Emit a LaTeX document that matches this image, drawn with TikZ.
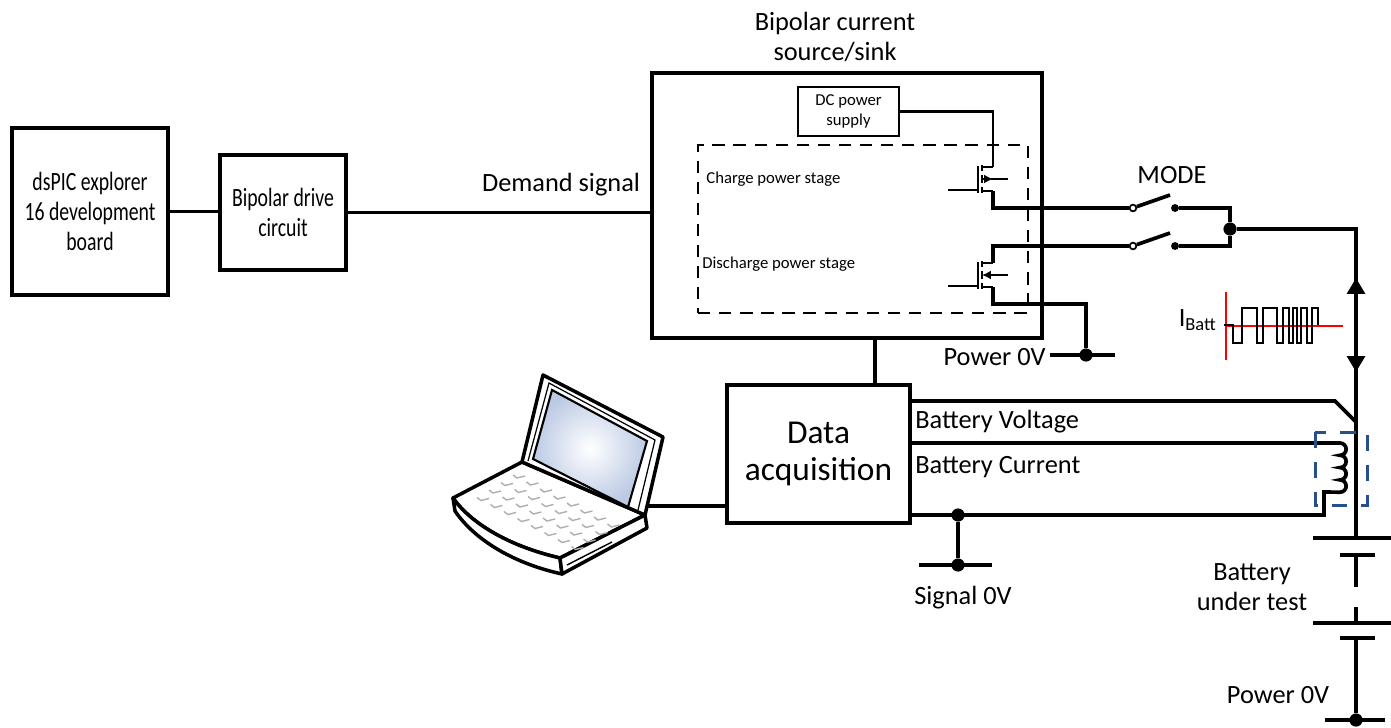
\documentclass[tikz,border=0pt]{standalone}
\usepackage{fontspec}
\usepackage{graphicx}
\setmainfont{Carlito}
\usetikzlibrary{arrows.meta}
\definecolor{coreblue}{RGB}{41,78,140}
\definecolor{screenblue}{RGB}{188,202,228}
\definecolor{keygrey}{RGB}{175,175,175}
\newcommand{\nar}[1]{\scalebox{0.75}[1]{#1}}

\tikzset{
  box/.style={draw,line width=2.2pt,align=center,inner sep=0pt,font=\fontsize{15}{17}\selectfont},
  wire/.style={line width=2.1pt},
  fetline/.style={line width=1.6pt},
  lbl/.style={inner sep=0pt,align=center,font=\fontsize{15}{17}\selectfont},
  smalllbl/.style={inner sep=0pt,align=center,font=\fontsize{9.5}{11.3}\selectfont},
  dot/.style={circle,fill,inner sep=0pt,minimum size=4.5pt},
  junction/.style={circle,fill,inner sep=0pt,minimum size=7.5pt},
  contact/.style={circle,draw,fill=white,line width=1pt,inner sep=0pt,minimum size=3.8pt},
  laptop/.style={line width=2pt,line join=round,fill=white},
  key/.style={keygrey,line width=0.8pt},
  pics/fet/.style={code={
    \draw[fetline] (-34,11) -- (-4,11) (-4,-13) -- (-4,14);
    \draw[fetline] (0,-14) -- (0,-8) (0,-4) -- (0,4) (0,8) -- (0,14);
    \draw[fetline] (0,-12) -- (11,-12) coordinate (-d);
    \draw[fetline] (0,12) -- (11,12) coordinate (-s);
    \coordinate (-b) at (0,0);
  }}
}

\begin{document}
\begin{tikzpicture}[x=0.02cm,y=-0.02cm]
  \useasboundingbox (0,0) rectangle (1391,727);

  \node[box,minimum width=3.12cm,minimum height=3.34cm] (dspic) at (90,211.5) {\nar{dsPIC explorer}\\\nar{16 development}\\\nar{board}};
  \node[box,minimum width=2.52cm,minimum height=2.3cm] (drive) at (283,212.5) {\nar{Bipolar drive}\\\nar{circuit}};
  \node[box,minimum width=7.8cm,minimum height=5.3cm] (source) at (847,205.5) {};
  \node[lbl] (sourcelbl) at (835,37) {Bipolar current\\source/sink};
  \node[box,line width=1.2pt,font=\fontsize{9.5}{11.3}\selectfont,minimum width=2.02cm,minimum height=0.98cm] (dcps) at (848.5,111.5) {DC power\\supply};
  \node[draw,line width=1.2pt,dash pattern=on 7pt off 5pt,minimum width=6.6cm,minimum height=3.36cm] (stage) at (863,229) {};
  \node[box,font=\fontsize{19}{21}\selectfont,minimum width=3.66cm,minimum height=2.76cm] (daq) at (818.5,454) {Data\\acquisition};

  \node[lbl] (demand) at (561,185) {Demand signal};
  \node[smalllbl,anchor=west] (chg) at (706,179) {Charge power stage};
  \node[smalllbl,anchor=west] (dis) at (702,264) {Discharge power stage};
  \node[lbl] (mode) at (1172,175) {MODE};
  \node[lbl,anchor=west] (vbat) at (915,422) {Battery Voltage};
  \node[lbl,anchor=west] (ibat) at (915,467) {Battery Current};
  \node[lbl] (sig0) at (963,598) {Signal 0V};
  \node[lbl] (bat) at (1252,587) {Battery\\under test};
  \node[lbl,anchor=east] (pwr0a) at (1046,357) {Power 0V};
  \node[lbl] (pwr0b) at (1278,695) {Power 0V};
  \node[lbl,anchor=east] (ibatt) at (1217,320) {I\textsubscript{Batt}};

  \draw[wire] (dspic.east) -- (dspic.east -| drive.west);
  \draw[wire] (drive.east) -- (drive.east -| source.west);
  \coordinate (tap) at (875,0);
  \draw[wire] (source.south -| tap) -- (daq.north -| tap);

  \pic (upfet) at (982,179) {fet};
  \pic (lofet) at (982,275) {fet};
  \draw[fetline,-{Latex[length=5pt,width=5pt]}] (upfet-b) -- ++(11,0);
  \draw[fetline] (upfet-b) ++(9,0) -- ++(17,0);
  \draw[fetline,-{Latex[length=5pt,width=5pt]}] (lofet-b) ++(26,0) -- (lofet-b);
  \draw[fetline] (dcps.east) -| (upfet-d);

  \node[contact] (sw1a) at (1133,208) {};
  \node[dot]     (sw1b) at (1175,208) {};
  \node[contact] (sw2a) at (1133,246) {};
  \node[dot]     (sw2b) at (1175,246) {};
  \node[junction] (jn)  at (1230,229) {};
  \coordinate (blade1) at (1170,195);
  \coordinate (blade2) at (1170,233);
  \draw[wire] (upfet-s) |- (sw1a.west);
  \draw[wire] (lofet-d) |- (sw2a.west);
  \draw[wire] (sw1a.20) -- (blade1);
  \draw[wire] (sw2a.20) -- (blade2);
  \draw[wire] (sw1b) -| (jn);
  \draw[wire] (sw2b) -| (jn);

  \node[junction] (pgnd) at (1086,355) {};
  \draw[wire] (lofet-s) -- ++(0,17) -| (pgnd);
  \draw[wire] (1050,355) -- (1115,355);

  \coordinate (plus) at (1356,538);
  \coordinate (iup) at (1356,278);
  \coordinate (idown) at (1356,372);
  \draw[wire] (jn) -| (plus);
  \draw[wire,{Triangle[length=9pt,width=10pt]}-{Triangle[length=9pt,width=10pt]}] (iup) -- (idown);

  \draw[red,line width=0.6pt] (1226,292) -- (1226,360) (1226,326) -- (1343,326);
  \draw[line width=1.1pt] (1224,325) -- (1233,325) -- (1233,343) -- (1242,343) -- (1242,308)
    -- (1257,308) -- (1257,343) -- (1263,343) -- (1263,308) -- (1277,308) -- (1277,343)
    -- (1283,343) -- (1283,308) -- (1289,308) -- (1289,343) -- (1293,343) -- (1293,308)
    -- (1297,308) -- (1297,343) -- (1301,343) -- (1301,308) -- (1307,308) -- (1307,343)
    -- (1312,343) -- (1312,308) -- (1318,308) -- (1318,325);

  \coordinate (vrow) at (0,401);
  \coordinate (irow) at (0,443);
  \coordinate (grow) at (0,515);
  \coordinate (vtap) at (1356,422);
  \draw[wire] (daq.east |- vrow) -- (1335,401) -- (vtap);
  \draw[wire] (daq.east |- irow) -- (1340,443)
    arc[start angle=90,end angle=-90,radius=3.5pt]
    arc[start angle=90,end angle=-90,radius=3.5pt]
    arc[start angle=90,end angle=-90,radius=3.5pt]
    arc[start angle=90,end angle=-90,radius=3.5pt]
    -- (1324,492) -- (1324,515) -- (daq.east |- grow);
  \draw[coreblue,line width=1.7pt,dash pattern=on 9pt off 8pt] (1315,432) rectangle (1367,505);

  \node[junction] (sgnd) at (958,515) {};
  \node[junction] (sgndb) at (958,565) {};
  \draw[wire] (sgnd) -- (sgndb);
  \draw[wire] (919,565) -- (992,565);

  \draw[wire] (1313,538) -- (1391,538);
  \draw[wire] (1340,555) -- (1375,555);
  \draw[wire] (1356,555) -- (1356,587);
  \draw[wire] (1356,607) -- (1356,623);
  \draw[wire] (1313,623) -- (1391,623);
  \draw[wire] (1340,638) -- (1375,638);
  \node[junction] (bgnd) at (1356,720) {};
  \draw[wire] (1356,638) -- (bgnd);
  \draw[wire] (1325,720) -- (1385,720);

  \draw[laptop] (453,498) -- (522,462) -- (645,515) -- (560,558)
    .. controls (512,547) and (472,525) .. cycle;
  \draw[laptop] (453,498) .. controls (472,525) and (512,547) .. (560,558) -- (562,574)
    .. controls (512,563) and (474,539) .. (455,511) -- cycle;
  \draw[laptop] (560,558) -- (645,515) -- (647,528) -- (562,574) -- cycle;
  \draw[line width=0.8pt] (567,565) -- (612,542);
  \foreach \r in {0,...,3}
    \foreach \c in {0,...,7}
      \draw[key] ({513+13.5*\c-12*\r},{475+7*\c+7.5*\r}) -- ++(4,3) -- ++(8,-2);
  \draw[laptop] (543,375) -- (663,437) -- (645,515) -- (522,462) -- cycle;
  \draw[line width=0.7pt] (528,461) -- (549,383) -- (655,440) -- (638,510);
  \shade[inner color=white,outer color=screenblue] (552,390) -- (647,441) -- (628,507) -- (533,459) -- cycle;
  \draw[line width=1.2pt] (552,390) -- (647,441) -- (628,507) -- (533,459) -- cycle;
  \coordinate (pc) at (648,506);
  \draw[wire] (pc) -- (pc -| daq.west);
\end{tikzpicture}
\end{document}
